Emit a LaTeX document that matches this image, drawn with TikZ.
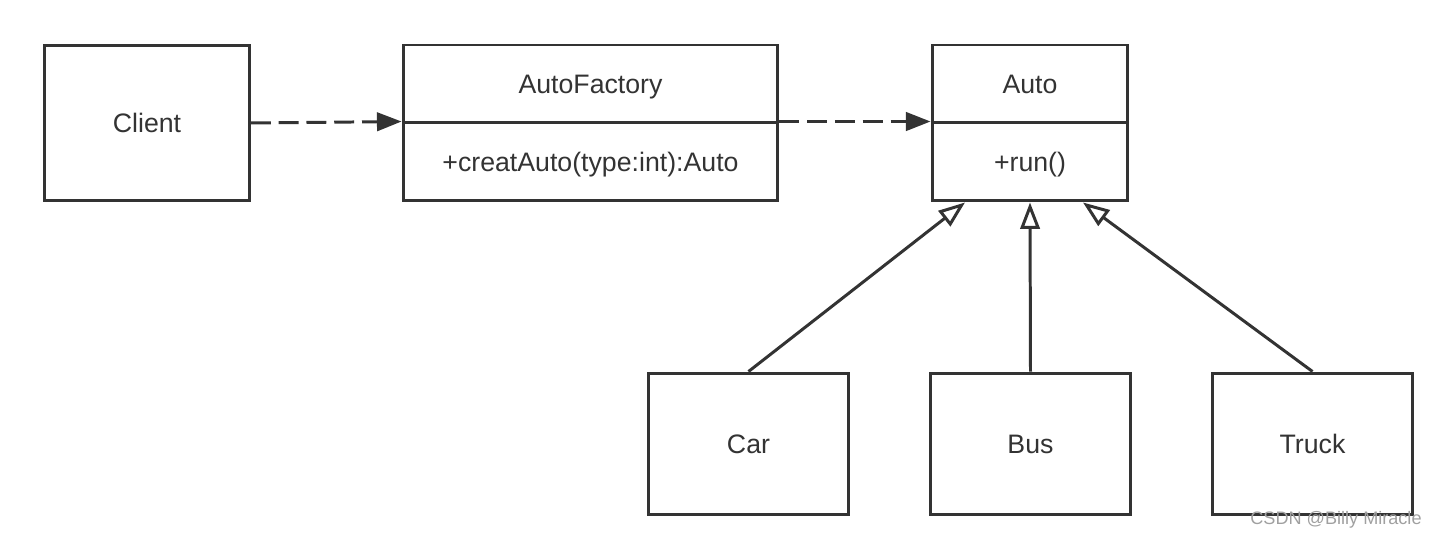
\documentclass[tikz,border=0pt]{standalone}
\usepackage{fontspec}
\setmainfont{Liberation Sans}
\usetikzlibrary{arrows.meta,calc}
\definecolor{uml_line}{RGB}{51, 51, 51}
\definecolor{uml_mark}{RGB}{160, 160, 160}
\tikzstyle{cls}=[rectangle,draw=uml_line,text=uml_line,line width=1.7pt,
  inner sep=0pt,text height=10.9pt,text depth=0pt,font=\fontsize{15.2}{18}\selectfont]
\tikzstyle{dep}=[draw=uml_line,line width=1.7pt,dash pattern=on 11.3pt off 4.5pt,
  -{Triangle[length=14pt,width=10.5pt]}]
\tikzstyle{inh}=[draw=uml_line,line width=1.7pt,
  -{Triangle[open,length=15pt,width=11pt]}]
\tikzstyle{none}=[]

\begin{document}
\begin{tikzpicture}[x=0.02cm,y=-0.02cm]
		\useasboundingbox (0, 0) rectangle (1438, 540);
		\node [style=cls,minimum width=4.1cm,minimum height=3.12cm] (0) at (147, 123) {Client};
		\node [style=cls,minimum width=7.5cm,minimum height=1.56cm] (1) at (590.5, 84) {AutoFactory};
		\node [style=cls,minimum width=7.5cm,minimum height=1.56cm] (2) at (590.5, 162) {+creatAuto(type:int):Auto};
		\node [style=cls,minimum width=3.92cm,minimum height=1.56cm] (3) at (1030, 84) {Auto};
		\node [style=cls,minimum width=3.92cm,minimum height=1.56cm] (4) at (1030, 162) {+run()};
		\node [style=cls,minimum width=4.02cm,minimum height=2.84cm] (5) at (748.5, 444) {Car};
		\node [style=cls,minimum width=4.02cm,minimum height=2.84cm] (6) at (1030.5, 444) {Bus};
		\node [style=cls,minimum width=4.02cm,minimum height=2.84cm] (7) at (1312.5, 444) {Truck};
		\node [style=none,text=uml_mark,font=\fontsize{10.3}{12}\selectfont] (8) at (1336, 520) {CSDN @Billy Miracle};
		\coordinate (9) at ($(4.south)+(-65, 0)$);
		\coordinate (10) at ($(4.south)+(53, 0)$);
		\draw [style=dep] (0.east) to (2.north west);
		\draw [style=dep] (2.north east) to (4.north west);
		\draw [style=inh] (5.north) to (9);
		\draw [style=inh] (6.north) to (4.south);
		\draw [style=inh] (7.north) to (10);
\end{tikzpicture}
\end{document}
